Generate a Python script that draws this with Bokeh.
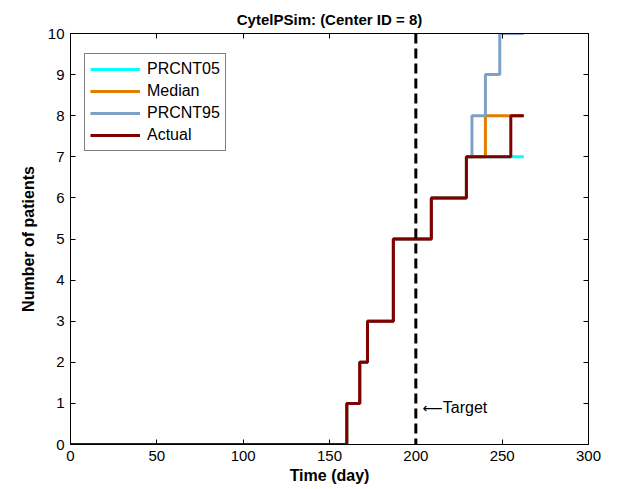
from bokeh.plotting import figure
from bokeh.models import (Legend, LegendItem, LinearAxis, FixedTicker, Span, Label, Range1d)
from bokeh.embed import file_html
from bokeh.resources import INLINE

# ---- data ----
actual_t = [0, 160, 167.5, 172, 187, 209, 229.3, 255, 262.5]
actual_n = [0, 1, 2, 3, 5, 6, 7, 8, 8]
p95_t = [0, 160, 167.5, 172, 187, 209, 229.3, 232.5, 240.3, 248.6, 262.5]
p95_n = [0, 1, 2, 3, 5, 6, 7, 8, 9, 10, 10]
med_t = [0, 160, 167.5, 172, 187, 209, 229.3, 240.3, 262.5]
med_n = [0, 1, 2, 3, 5, 6, 7, 8, 8]
p05_t = [0, 160, 167.5, 172, 187, 209, 229.3, 262.5]
p05_n = [0, 1, 2, 3, 5, 6, 7, 7]
target_day = 200
x_ticks = [0, 50, 100, 150, 200, 250, 300]
y_ticks = list(range(0, 11))

FONT = "Liberation Sans"

p = figure(frame_width=518, frame_height=411, output_backend="svg", toolbar_location=None,
           x_range=Range1d(0, 300), y_range=Range1d(0, 10),
           min_border_left=70, min_border_right=35, min_border_top=33, min_border_bottom=45,
           x_axis_label="Time (day)", y_axis_label="Number of patients",
           title="CytelPSim: (Center ID = 8)")
p.title.align = "center"
p.title.vertical_align = "top"
p.title.text_font = FONT
p.title.text_font_size = "15px"
p.title.text_font_style = "bold"
p.title.text_color = "black"
p.title.offset = 0
p.title.standoff = 7
p.grid.visible = False
p.outline_line_color = "black"
p.outline_line_alpha = 1
p.outline_line_width = 1
p.background_fill_color = "white"
p.border_fill_color = "white"

for ax, ticks in ((p.xaxis[0], x_ticks), (p.yaxis[0], y_ticks)):
    ax.ticker = FixedTicker(ticks=ticks)
    ax.major_tick_in = 5
    ax.major_tick_out = 0
    ax.minor_tick_line_color = None
    ax.major_label_text_font = FONT
    ax.major_label_text_font_size = "15px"
    ax.major_label_text_color = "black"
    ax.axis_label_text_font = FONT
    ax.axis_label_text_font_size = "16px"
    ax.axis_label_text_font_style = "bold"
    ax.axis_label_text_color = "black"
    ax.axis_line_color = "black"
    ax.major_tick_line_color = "black"
p.xaxis[0].major_label_standoff = 6
p.xaxis[0].axis_label_standoff = 3
p.yaxis[0].major_label_standoff = 6
p.yaxis[0].axis_label_standoff = 8

top = LinearAxis(ticker=FixedTicker(ticks=x_ticks), major_tick_in=5, major_tick_out=0,
                 minor_tick_line_color=None, major_label_text_font_size="0px",
                 major_label_text_color=None, major_label_standoff=0,
                 major_tick_line_color="black", axis_line_color="black")
right = LinearAxis(ticker=FixedTicker(ticks=y_ticks), major_tick_in=5, major_tick_out=0,
                   minor_tick_line_color=None, major_label_text_font_size="0px",
                   major_label_text_color=None, major_label_standoff=0,
                   major_tick_line_color="black", axis_line_color="black")
p.add_layout(top, "above")
p.add_layout(right, "right")

r05 = p.step(p05_t, p05_n, mode="after", line_color="#00FFFF", line_width=3)
rmed = p.step(med_t, med_n, mode="after", line_color="#E08000", line_width=3)
r95 = p.step(p95_t, p95_n, mode="after", line_color="#7DA2C6", line_width=3)
ract = p.step(actual_t, actual_n, mode="after", line_color="#800000", line_width=3)

p.add_layout(Span(location=target_day, dimension="height", line_color="black",
                  line_width=3, line_dash="10 5"))
p.add_layout(Label(x=target_day, y=0.9, x_offset=7, text="\u27F5",
                   text_font="DejaVu Sans", text_font_size="14px", text_baseline="middle",
                   text_color="black"))
p.add_layout(Label(x=target_day, y=0.9, x_offset=27, text="Target",
                   text_font=FONT, text_font_size="16px", text_baseline="middle",
                   text_color="black"))

legend = Legend(items=[LegendItem(label="PRCNT05", renderers=[r05]),
                       LegendItem(label="Median", renderers=[rmed]),
                       LegendItem(label="PRCNT95", renderers=[r95]),
                       LegendItem(label="Actual", renderers=[ract])],
                location=(14, 293), border_line_color="black", border_line_width=1,
                background_fill_alpha=1, label_text_font=FONT, label_text_font_size="16px",
                label_text_color="black",
                glyph_width=50, glyph_height=20, label_height=20, spacing=2,
                padding=5, margin=0, label_standoff=7)
p.add_layout(legend)

open("out.html", "w").write(file_html(p, INLINE))
